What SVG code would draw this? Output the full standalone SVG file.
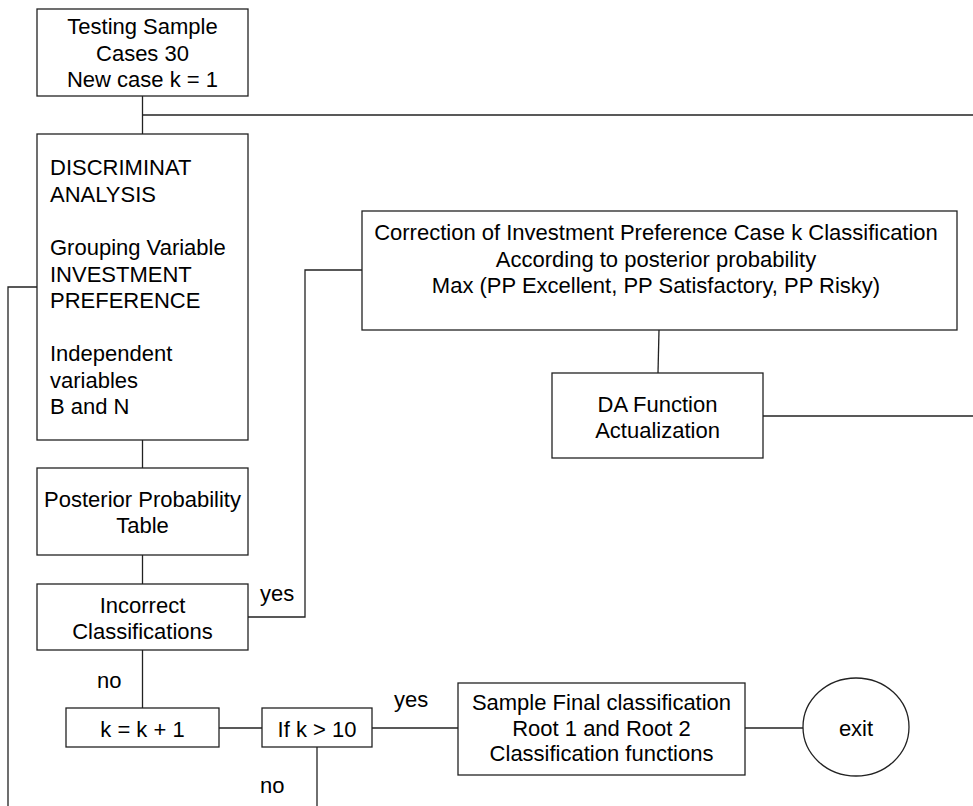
<svg xmlns="http://www.w3.org/2000/svg" width="973" height="806" viewBox="0 0 973 806">
<style>
.box{fill:#fff;stroke:#222;stroke-width:1.3}
.ln{fill:none;stroke:#222;stroke-width:1.3}
text{font-family:"Liberation Sans",Arial,sans-serif;font-size:22px;fill:#000}
.c{text-anchor:middle}
</style>
<rect width="973" height="806" fill="#fff"/>
<g id="connectors">
<path class="ln" d="M142.5,96 V134"/>
<path class="ln" d="M142.5,115 H973"/>
<path class="ln" d="M142.5,440 V468"/>
<path class="ln" d="M142.5,555 V584"/>
<path class="ln" d="M37,287 H8 V806"/>
<path class="ln" d="M248,617 H305 V270 H362"/>
<path class="ln" d="M659,330 L658,373"/>
<path class="ln" d="M763,416 H973"/>
<path class="ln" d="M142.5,650 V708"/>
<path class="ln" d="M219,728 H262"/>
<path class="ln" d="M372,728 H458"/>
<path class="ln" d="M317,747 V806"/>
<path class="ln" d="M745,728 H803"/>
<text x="260" y="601">yes</text>
<text x="97" y="688">no</text>
<text x="394" y="707">yes</text>
<text x="260" y="793">no</text>
</g>
<g id="testing">
<rect class="box" x="37" y="9" width="211" height="87"/>
<text class="c" x="142.5" y="34">Testing Sample</text>
<text class="c" x="142.5" y="60.5">Cases 30</text>
<text class="c" x="142.5" y="87">New case k = 1</text>
</g>
<g id="discriminant">
<rect class="box" x="37" y="134" width="211" height="306"/>
<text x="50" y="175">DISCRIMINAT</text>
<text x="50" y="201.5">ANALYSIS</text>
<text x="50" y="255">Grouping Variable</text>
<text x="50" y="281.5">INVESTMENT</text>
<text x="50" y="308">PREFERENCE</text>
<text x="50" y="361">Independent</text>
<text x="50" y="387.5">variables</text>
<text x="50" y="414">B and N</text>
</g>
<g id="posterior">
<rect class="box" x="37" y="468" width="211" height="87"/>
<text class="c" x="142.5" y="507">Posterior Probability</text>
<text class="c" x="142.5" y="533">Table</text>
</g>
<g id="incorrect">
<rect class="box" x="37" y="584" width="211" height="66"/>
<text class="c" x="142.5" y="613">Incorrect</text>
<text class="c" x="142.5" y="639">Classifications</text>
</g>
<g id="correction">
<rect class="box" x="362" y="211" width="595" height="119"/>
<text class="c" x="656" y="240">Correction of Investment Preference Case k Classification</text>
<text class="c" x="656" y="266.5">According to posterior probability</text>
<text class="c" x="656" y="293">Max (PP Excellent, PP Satisfactory, PP Risky)</text>
</g>
<g id="dafunction">
<rect class="box" x="552" y="373" width="211" height="85"/>
<text class="c" x="657.5" y="412">DA Function</text>
<text class="c" x="657.5" y="438">Actualization</text>
</g>
<g id="kinc">
<rect class="box" x="66" y="708" width="153" height="39"/>
<text class="c" x="142.5" y="737">k = k + 1</text>
</g>
<g id="ifk">
<rect class="box" x="262" y="708" width="110" height="39"/>
<text class="c" x="317" y="737">If k &gt; 10</text>
</g>
<g id="final">
<rect class="box" x="458" y="683" width="287" height="92"/>
<text class="c" x="601.5" y="710">Sample Final classification</text>
<text class="c" x="601.5" y="735.5">Root 1 and Root 2</text>
<text class="c" x="601.5" y="761">Classification functions</text>
</g>
<g id="exit">
<ellipse class="box" cx="856" cy="727" rx="53" ry="49"/>
<text class="c" x="856" y="736">exit</text>
</g>
</svg>
